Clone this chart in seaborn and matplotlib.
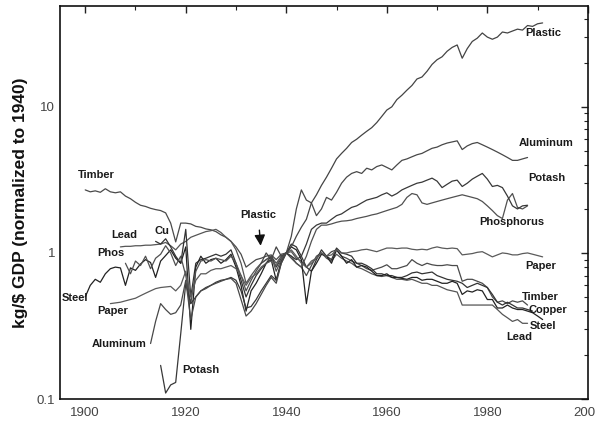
import numpy as np
import pandas as pd
import matplotlib
matplotlib.use("Agg")
import matplotlib.pyplot as plt
import seaborn as sns
from matplotlib.ticker import FixedLocator, LogLocator, NullFormatter

# ---------------- data (kg/$ GDP normalised to 1940) ----------------
timber_start = 1900
timber = [2.70, 2.62, 2.66, 2.60, 2.75, 2.62, 2.58, 2.62, 2.45, 2.35,
          2.22, 2.12, 2.08, 2.02, 1.98, 1.95, 1.88, 1.60, 1.19, 1.60,
          1.60, 1.58, 1.52, 1.50, 1.46, 1.44, 1.40, 1.33, 1.28, 1.20,
          1.10, 0.98, 0.80, 0.85, 0.90, 0.92, 0.95, 0.97, 0.90, 0.98,
          1.00, 0.92, 0.85, 0.80, 0.70, 0.82, 0.95, 1.00, 0.95, 1.02,
          1.05, 0.95, 0.92, 0.88, 0.85, 0.82, 0.78, 0.76, 0.78, 0.80,
          0.83, 0.78, 0.78, 0.80, 0.82, 0.90, 0.85, 0.82, 0.85, 0.83,
          0.82, 0.82, 0.83, 0.82, 0.82, 0.64, 0.66, 0.66, 0.64, 0.62,
          0.58, 0.50, 0.46, 0.47, 0.45, 0.47, 0.46, 0.47, 0.44]

lead_start = 1907
lead = [1.10, 1.11, 1.11,
        1.12, 1.12, 1.13, 1.13, 1.14, 1.15, 1.18, 1.12, 1.05, 1.15,
        1.20, 1.28, 1.32, 1.36, 1.40, 1.42, 1.45, 1.38, 1.28, 1.20,
        1.05, 0.85, 0.62, 0.70, 0.78, 0.85, 0.90, 0.95, 0.85, 0.95,
        1.00, 1.02, 0.92, 0.88, 0.80, 0.85, 0.92, 1.00, 0.92, 0.88,
        0.98, 0.92, 0.88, 0.85, 0.80, 0.78, 0.75, 0.72, 0.70, 0.69,
        0.70, 0.68, 0.66, 0.66, 0.65, 0.66, 0.64, 0.62, 0.62, 0.60,
        0.60, 0.58, 0.56, 0.55, 0.54, 0.44, 0.44, 0.44, 0.44, 0.44,
        0.44, 0.44, 0.41, 0.38, 0.36, 0.34, 0.35, 0.33, 0.33]

copper_start = 1914
copper = [1.20, 1.15, 1.25, 1.10, 0.95, 0.85,
          1.45, 0.50, 0.85, 0.90, 0.92, 0.95, 0.98, 0.95, 0.98, 1.05,
          0.85, 0.65, 0.50, 0.60, 0.70, 0.78, 0.85, 0.95, 0.80, 0.92,
          1.00, 1.15, 1.10, 0.95, 0.80, 0.75, 0.90, 1.05, 0.95, 0.90,
          1.08, 1.00, 0.98, 0.95, 0.85, 0.85, 0.82, 0.78, 0.72, 0.72,
          0.70, 0.70, 0.68, 0.68, 0.70, 0.73, 0.74, 0.72, 0.73, 0.74,
          0.70, 0.68, 0.66, 0.65, 0.64, 0.62, 0.58, 0.60, 0.62, 0.60,
          0.58, 0.52, 0.46, 0.44, 0.46, 0.44, 0.42, 0.42, 0.41, 0.40]

steel_start = 1900
steel = [0.50, 0.60, 0.66, 0.63, 0.72, 0.78, 0.80, 0.79, 0.60, 0.79,
         0.76, 0.84, 0.90, 0.86, 0.68, 0.88, 0.96, 1.05, 0.92, 0.85,
         1.10, 0.30, 0.80, 0.95, 0.85, 0.90, 0.92, 0.85, 0.90, 0.98,
         0.80, 0.60, 0.40, 0.55, 0.62, 0.72, 0.85, 0.90, 0.65, 0.88,
         1.00, 1.10, 1.05, 0.90, 0.45, 0.75, 0.85, 0.98, 0.95, 0.85,
         1.05, 0.95, 0.85, 0.90, 0.80, 0.82, 0.80, 0.75, 0.70, 0.70,
         0.72, 0.68, 0.68, 0.67, 0.66, 0.68, 0.68, 0.65, 0.66, 0.66,
         0.64, 0.62, 0.62, 0.64, 0.62, 0.52, 0.55, 0.54, 0.56, 0.55,
         0.48, 0.48, 0.42, 0.42, 0.44, 0.42, 0.41, 0.41, 0.40, 0.39,
         0.37, 0.35]

phosphorus_start = 1908
phosphorus = [0.85, 0.72,
              0.88, 0.82, 0.95, 0.78, 0.92, 0.98, 1.12, 1.00, 0.82, 0.95,
              0.70, 0.45, 0.75, 0.88, 0.90, 0.88, 0.92, 0.90, 0.88, 0.95,
              0.85, 0.70, 0.55, 0.65, 0.75, 0.85, 0.90, 0.95, 0.75, 0.90,
              1.00, 0.95, 0.85, 0.80, 0.95, 1.20, 1.45, 1.55, 1.55, 1.58,
              1.62, 1.65, 1.66, 1.68, 1.72, 1.75, 1.78, 1.82, 1.85, 1.90,
              1.95, 2.00, 2.05, 2.15, 2.40, 2.55, 2.50, 2.20, 2.15, 2.20,
              2.25, 2.30, 2.35, 2.40, 2.45, 2.50, 2.45, 2.40, 2.35, 2.25,
              2.10, 1.95, 1.80, 1.72, 2.30, 2.55, 2.05, 2.00, 2.10]

potash_start = 1915
potash = [0.17, 0.11, 0.125, 0.13, 0.28,
          0.62, 0.45, 0.50, 0.55, 0.58, 0.60, 0.63, 0.65, 0.66, 0.68,
          0.65, 0.55, 0.42, 0.43, 0.48, 0.55, 0.62, 0.70, 0.65, 0.85,
          1.00, 0.95, 0.90, 0.95, 1.15, 1.45, 1.55, 1.60, 1.60, 1.70,
          1.80, 1.85, 1.95, 2.05, 2.10, 2.20, 2.30, 2.35, 2.40, 2.50,
          2.58, 2.45, 2.55, 2.70, 2.80, 2.90, 3.00, 3.05, 3.15, 3.25,
          3.10, 2.80, 2.95, 3.10, 3.15, 2.85, 3.00, 3.20, 3.35, 3.50,
          3.20, 2.85, 2.90, 2.80, 2.45, 2.10, 2.00, 2.10, 2.12]

aluminum_start = 1913
aluminum = [0.24, 0.34, 0.45, 0.41, 0.38, 0.39, 0.44,
            0.65, 0.35, 0.50, 0.55, 0.57, 0.60, 0.62, 0.64, 0.66, 0.67,
            0.62, 0.48, 0.37, 0.40, 0.45, 0.52, 0.60, 0.68, 0.62, 0.85,
            1.00, 1.30, 2.00, 2.70, 2.30, 2.20, 1.80, 2.00, 2.40, 2.30,
            2.60, 3.00, 3.30, 3.50, 3.60, 3.50, 3.80, 3.70, 3.90, 4.00,
            3.85, 3.70, 4.00, 4.30, 4.40, 4.55, 4.70, 4.80, 5.00, 5.20,
            5.30, 5.50, 5.65, 5.75, 5.85, 5.10, 5.40, 5.60, 5.70, 5.50,
            5.30, 5.10, 4.90, 4.70, 4.50, 4.30, 4.30, 4.40, 4.50]

paper_start = 1905
paper = [0.45, 0.455, 0.46, 0.47, 0.48,
         0.49, 0.51, 0.53, 0.55, 0.57, 0.58, 0.585, 0.59, 0.55, 0.60,
         0.75, 0.50, 0.65, 0.72, 0.72, 0.76, 0.78, 0.78, 0.80, 0.82,
         0.78, 0.70, 0.60, 0.68, 0.72, 0.80, 0.85, 0.88, 0.82, 0.95,
         1.00, 1.05, 0.95, 0.85, 0.80, 0.88, 0.92, 1.00, 0.95, 0.97,
         1.05, 1.00, 1.00, 1.02, 1.03, 1.05, 1.06, 1.04, 1.02, 1.05,
         1.08, 1.08, 1.07, 1.08, 1.08, 1.06, 1.05, 1.06, 1.05, 1.08,
         1.10, 1.08, 1.07, 1.08, 1.07, 0.97, 0.98, 0.99, 1.01, 1.02,
         0.98, 0.94, 0.97, 1.00, 0.99, 0.97, 0.97, 0.99, 1.00, 0.98,
         0.96, 0.94]

plastic_start = 1935
plastic = [0.85, 1.00, 0.90, 1.10, 0.95,
           1.00, 1.10, 1.30, 1.50, 1.70, 2.20, 2.50, 2.90, 3.30, 3.80,
           4.40, 4.80, 5.20, 5.70, 6.00, 6.40, 6.80, 7.20, 7.80, 8.60,
           9.50, 10.0, 11.2, 12.0, 13.0, 14.0, 15.5, 16.0, 17.5, 19.5,
           21.0, 22.0, 24.0, 25.5, 26.5, 21.5, 25.0, 28.0, 29.5, 32.0,
           30.0, 29.0, 30.0, 32.5, 32.0, 33.0, 34.0, 33.5, 36.0, 35.5,
           37.0, 37.5]

series = {
    "Timber": (timber_start, timber),
    "Lead": (lead_start, lead),
    "Copper": (copper_start, copper),
    "Steel": (steel_start, steel),
    "Phosphorus": (phosphorus_start, phosphorus),
    "Potash": (potash_start, potash),
    "Aluminum": (aluminum_start, aluminum),
    "Paper": (paper_start, paper),
    "Plastic": (plastic_start, plastic),
}

rows = []
for name, (start, vals) in series.items():
    for i, v in enumerate(vals):
        rows.append({"series": name, "year": start + i, "value": v})
df = pd.DataFrame(rows)

palette = {"Timber": "#4a4a4a", "Lead": "#555555", "Copper": "#333333",
           "Steel": "#222222", "Phosphorus": "#505050", "Potash": "#383838",
           "Aluminum": "#484848", "Paper": "#5a5a5a", "Plastic": "#444444"}

# ---------------- figure ----------------
sns.set_style("white")
plt.rcParams["font.family"] = ["Liberation Sans", "DejaVu Sans"]

fig = plt.figure(figsize=(5.95, 4.25), dpi=100)
ax = fig.add_axes([0.101, 0.061, 0.887, 0.925])

sns.lineplot(data=df, x="year", y="value", hue="series", palette=palette,
             estimator=None, sort=False, legend=False, linewidth=0.9, ax=ax)

ax.set_yscale("log")
ax.set_xlim(1895, 2000)
ax.set_ylim(0.1, 49)

ax.xaxis.set_major_locator(FixedLocator([1900, 1920, 1940, 1960, 1980, 2000]))
ax.xaxis.set_minor_locator(FixedLocator([1910, 1930, 1950, 1970, 1990]))
ax.yaxis.set_major_locator(FixedLocator([0.1, 1, 10]))
ax.set_yticklabels(["0.1", "1", "10"])
ax.yaxis.set_minor_locator(LogLocator(base=10, subs=np.arange(2, 10)))
ax.yaxis.set_minor_formatter(NullFormatter())

ax.tick_params(which="both", direction="in", top=True, right=True,
               labelsize=9.5, labelcolor="#444444", color="#222222")
ax.tick_params(which="major", length=5, width=1)
ax.tick_params(which="minor", length=3, width=0.8)
ax.tick_params(axis="x", pad=6)
for s in ax.spines.values():
    s.set_linewidth(1.2)
    s.set_color("#111111")

ax.set_xlabel("")
ax.set_ylabel(r"kg/\$ GDP (normalized to 1940)", fontsize=12.5,
              fontweight="bold", color="#111111", labelpad=6)

lab = dict(fontsize=8, fontweight="bold", color="#1a1a1a", va="center")
labels = [
    ("Timber", 1898.6, 3.42), ("Lead", 1905.2, 1.33), ("Cu", 1913.7, 1.41),
    ("Phos", 1902.3, 1.0), ("Steel", 1895.3, 0.49), ("Paper", 1902.3, 0.40),
    ("Aluminum", 1901.3, 0.24), ("Potash", 1919.3, 0.158),
    ("Plastic", 1987.6, 32.2), ("Aluminum", 1986.3, 5.67),
    ("Potash", 1988.2, 3.26), ("Phosphorus", 1978.3, 1.63),
    ("Paper", 1987.6, 0.81), ("Timber", 1986.9, 0.5),
    ("Copper", 1988.2, 0.41), ("Steel", 1988.5, 0.315),
    ("Lead", 1983.7, 0.266),
]
for t, x, y in labels:
    ax.text(x, y, t, ha="left", **lab)

ax.annotate("Plastic", xy=(1934.9, 1.12), xytext=(1934.4, 1.82),
            ha="center", va="center", fontsize=8, fontweight="bold",
            color="#1a1a1a",
            arrowprops=dict(arrowstyle="-|>,head_length=0.8,head_width=0.4",
                            color="#111111", lw=1.0, shrinkA=5, shrinkB=0))

fig.savefig("out.png", dpi=100)
